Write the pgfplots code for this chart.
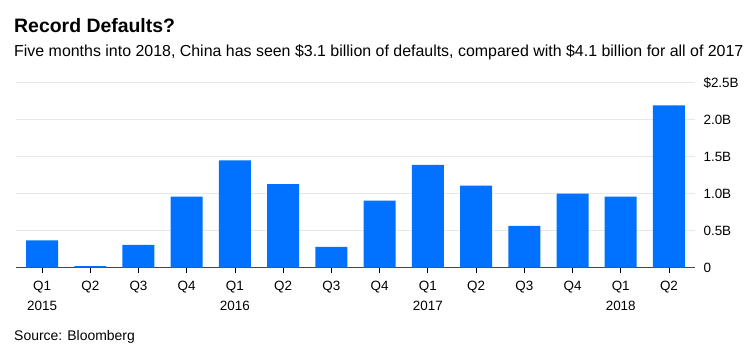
\documentclass[border=0pt]{standalone}
\usepackage{fontspec}
\setmainfont{Liberation Sans}
\usepackage{pgfplots}
\pgfplotsset{compat=1.18}
\definecolor{barblue}{RGB}{0,114,255}
\definecolor{gridgray}{RGB}{232,232,232}
\definecolor{axisgray}{RGB}{70,70,70}
\pgfplotstableread{
x y
0 0.37
1 0.02
2 0.31
3 0.96
4 1.45
5 1.13
6 0.28
7 0.905
8 1.39
9 1.11
10 0.565
11 1.00
12 0.96
13 2.195
}\defaults
\begin{document}
\begin{tikzpicture}[x=1bp,y=1bp]
\path[use as bounding box] (0,0) rectangle (747,346);
\begin{axis}[
  at={(16bp,78.3bp)}, anchor=south west,
  scale only axis, width=679bp, height=185bp,
  xmin=-0.54, xmax=13.54, ymin=0, ymax=2.5,
  axis x line*=bottom, axis y line*=right,
  x axis line style={draw=axisgray, line width=1bp},
  y axis line style={draw=none},
  xtick={0,...,13},
  xticklabels={{Q1\\2015},Q2,Q3,Q4,{Q1\\2016},Q2,Q3,Q4,{Q1\\2017},Q2,Q3,Q4,{Q1\\2018},Q2},
  xticklabel style={align=center, font=\fontsize{13.5}{19.5}\selectfont, anchor=north, yshift=-5bp},
  tick align=outside, major tick length=5bp,
  xtick style={draw=black, line width=0.8bp},
  ytick={0,0.5,1,1.5,2,2.5},
  yticklabels={0,0.5B,1.0B,1.5B,2.0B,\$2.5B},
  ytick style={draw=none},
  yticklabel style={anchor=west, font=\fontsize{13.5}{16}\selectfont, xshift=0bp},
  ymajorgrids, grid style={draw=gridgray, line width=1bp},
  clip=false,
]
\addplot[ybar, bar width=32bp, bar shift=0pt, fill=barblue, draw=none] table[x=x,y=y]{\defaults};
\end{axis}
\node[anchor=base west, inner sep=0pt] at (14,346-32.7) {\fontsize{19.5}{22}\selectfont\bfseries Record Defaults?};
\node[anchor=base west, inner sep=0pt] at (14,346-56.7) {\fontsize{16}{19}\selectfont Five months into 2018, China has seen \$3.1 billion of defaults, compared with \$4.1 billion for all of 2017};
\node[anchor=base west, inner sep=0pt] at (14,346-340.5) {\fontsize{14}{16}\selectfont Source: Bloomberg};
\end{tikzpicture}
\end{document}
